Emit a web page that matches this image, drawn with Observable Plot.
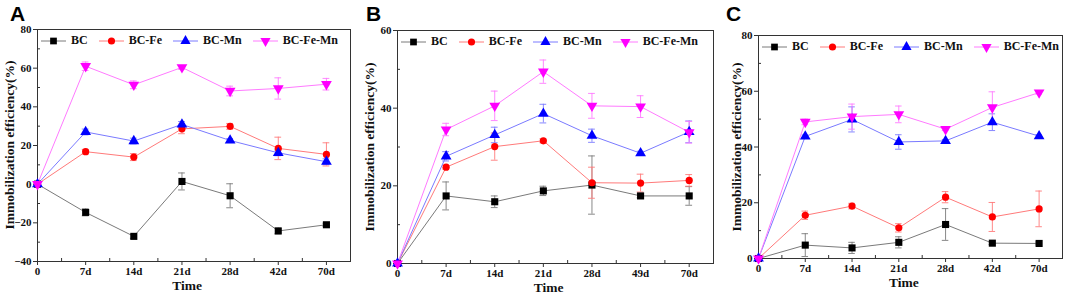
<!DOCTYPE html>
<html>
<head>
<meta charset="utf-8">
<script src="https://cdn.jsdelivr.net/npm/d3@7"></script>
<script src="https://cdn.jsdelivr.net/npm/@observablehq/plot@0.6"></script>
<style>
  html, body { margin: 0; padding: 0; background: #fff; }
  #wrap { position: relative; width: 1065px; height: 296px; overflow: hidden; background: #fff; }
  .pn { position: absolute; top: 0; }
  .pn svg text { font-family: "Liberation Serif", "Times New Roman", serif; font-weight: bold; font-size: 11px; fill: #111; }
  .letter { position: absolute; font-family: "Liberation Sans", Arial, sans-serif; font-weight: bold; font-size: 21px; line-height: 1; color: #000; }
  .ylab { position: absolute; font-family: "Liberation Serif", "Times New Roman", serif; font-weight: bold; font-size: 13.5px; white-space: nowrap; transform: translate(-50%, -50%) rotate(-90deg); color: #111; }
  .xlab { position: absolute; font-family: "Liberation Serif", "Times New Roman", serif; font-weight: bold; font-size: 13.5px; line-height: 1; transform: translate(-50%, -50%); color: #111; }
  .legend { position: absolute; display: flex; align-items: center; gap: 11px; font-family: "Liberation Serif", "Times New Roman", serif; font-weight: bold; font-size: 12px; color: #111; }
  .legend .it { display: flex; align-items: center; }
  .legend svg { display: block; margin-right: 5px; }
</style>
</head>
<body>
<div id="wrap"></div>
<script>
// ---------- data ----------
const seriesNames = ["BC", "BC-Fe", "BC-Mn", "BC-Fe-Mn"];

const timeA = ["0", "7d", "14d", "21d", "28d", "42d", "70d"];
const A_BC = [0, -14.6, -27.0, 1.4, -6.0, -24.2, -21.0];
const A_BC_err = [0, 1.8, 1.0, 4.4, 6.2, 1.5, 0.8];
const A_Fe = [0, 16.8, 14.0, 28.6, 29.9, 18.5, 15.4];
const A_Fe_err = [0, 1.2, 1.8, 2.5, 1.5, 5.8, 6.0];
const A_Mn = [0, 27.0, 22.3, 30.9, 22.6, 16.2, 11.6];
const A_Mn_err = [0, 1.5, 1.5, 1.5, 1.0, 1.5, 1.5];
const A_FeMn = [0, 61.0, 51.4, 60.4, 48.2, 49.5, 51.7];
const A_FeMn_err = [0, 2.2, 2.0, 1.0, 2.5, 5.5, 3.0];

const timeB = ["0", "7d", "14d", "21d", "28d", "49d", "70d"];
const B_BC = [0, 17.4, 15.9, 18.7, 20.2, 17.4, 17.4];
const B_BC_err = [0, 3.6, 1.5, 1.2, 7.5, 0.5, 2.4];
const B_Fe = [0, 24.8, 30.1, 31.6, 20.8, 20.7, 21.4];
const B_Fe_err = [0, 0.5, 3.5, 0.5, 4.0, 2.3, 1.5];
const B_Mn = [0, 27.6, 33.1, 38.6, 32.9, 28.4, 33.9];
const B_Mn_err = [0, 1.2, 2.0, 2.4, 1.7, 0.5, 2.8];
const B_FeMn = [0, 34.5, 40.6, 49.4, 40.6, 40.4, 33.8];
const B_FeMn_err = [0, 1.6, 3.8, 3.0, 3.2, 2.8, 2.8];

const timeC = ["0", "7d", "14d", "21d", "28d", "42d", "70d"];
const C_BC = [0, 4.8, 3.8, 5.8, 12.2, 5.5, 5.4];
const C_BC_err = [0, 4.1, 2.0, 2.0, 5.7, 0.5, 0.5];
const C_Fe = [0, 15.5, 18.8, 11.0, 22.0, 14.9, 17.8];
const C_Fe_err = [0, 1.5, 1.0, 1.5, 2.0, 5.2, 6.4];
const C_Mn = [0, 43.8, 49.9, 41.8, 42.2, 48.9, 43.9];
const C_Mn_err = [0, 0.5, 4.5, 2.6, 0.5, 3.0, 0.5];
const C_FeMn = [0, 49.0, 50.9, 51.7, 46.4, 54.2, 59.5];
const C_FeMn_err = [0, 1.0, 4.5, 3.0, 0.5, 5.6, 0.5];

const yTicksA = [-40, -20, 0, 20, 40, 60, 80];
const yTicksB = [0, 20, 40, 60];
const yTicksC = [0, 20, 40, 60, 80];

// ---------- styles ----------
const markColors = ["#000000", "#ff0000", "#0000ff", "#ff00ff"];
const lineColors = ["#7a7a7a", "#ff7a7a", "#7a7aff", "#ff7aff"];
const symbols = ["square", "circle", "triangle", "triangle"];
const rotates = [0, 0, 0, 180];

function buildRows(vals, errs) {
  const rows = [];
  vals.forEach((arr, s) => arr.forEach((v, i) => rows.push({s, i, y: v, e: errs[s][i]})));
  return rows;
}

const wrap = document.getElementById("wrap");

function panel(cfg) {
  const rows = buildRows(cfg.vals, cfg.errs);
  const withErr = rows.filter(d => d.e > 0);
  const yMin = cfg.yTicks[0], yMax = cfg.yTicks[cfg.yTicks.length - 1];
  const minorY = cfg.yTicks.slice(0, -1).map(t => t + (cfg.yTicks[1] - cfg.yTicks[0]) / 2);
  const majorX = d3.range(0, cfg.labels.length);
  const minorX = d3.range(0.5, cfg.labels.length - 0.4, 1);
  const marks = [
    Plot.frame({stroke: "#333", strokeWidth: 1}),
    Plot.axisX({ticks: majorX, tickFormat: i => cfg.labels[i], tickSize: 4, tickPadding: 2, stroke: "#333", label: null}),
    Plot.axisX({ticks: minorX, tickFormat: () => "", tickSize: -3, stroke: "#333", label: null}),
    Plot.axisY({ticks: cfg.yTicks, tickSize: 4, tickPadding: 2, stroke: "#333", label: null}),
    Plot.axisY({ticks: minorY, tickFormat: () => "", tickSize: -3, stroke: "#333", label: null})
  ];
  for (let s = 0; s < 4; s++) {
    const sr = rows.filter(d => d.s === s);
    const se = withErr.filter(d => d.s === s);
    marks.push(
      Plot.ruleX(se, {x: "i", y1: d => d.y - d.e, y2: d => d.y + d.e, stroke: lineColors[s], strokeWidth: 0.9}),
      Plot.ruleY(se, {y: d => d.y - d.e, x1: d => d.i - 0.07, x2: d => d.i + 0.07, stroke: lineColors[s], strokeWidth: 0.9}),
      Plot.ruleY(se, {y: d => d.y + d.e, x1: d => d.i - 0.07, x2: d => d.i + 0.07, stroke: lineColors[s], strokeWidth: 0.9}),
      Plot.line(sr, {x: "i", y: "y", stroke: lineColors[s], strokeWidth: 1})
    );
  }
  for (let s = 0; s < 4; s++) {
    const sr = rows.filter(d => d.s === s);
    marks.push(Plot.dot(sr, {x: "i", y: "y", symbol: symbols[s], rotate: rotates[s], fill: markColors[s], stroke: "none", r: s === 1 ? 3.6 : 4.0}));
  }
  const chart = Plot.plot({
    width: cfg.width, height: 296,
    marginLeft: cfg.ml, marginRight: cfg.mr, marginTop: cfg.mt, marginBottom: cfg.mb,
    x: {type: "linear", domain: [0, cfg.labels.length - 0.5], label: null},
    y: {domain: [yMin, yMax], label: null},
    style: {fontFamily: "Liberation Serif", fontWeight: "bold", fontSize: "11px", background: "transparent", overflow: "visible"},
    marks
  });
  const div = document.createElement("div");
  div.className = "pn";
  div.style.left = cfg.left + "px";
  div.appendChild(chart);
  wrap.appendChild(div);

  // panel letter
  const L = document.createElement("div");
  L.className = "letter";
  L.textContent = cfg.letter;
  L.style.left = cfg.letterX + "px";
  L.style.top = "3px";
  wrap.appendChild(L);

  // y label
  const frameL = cfg.left + cfg.ml, frameR = cfg.left + cfg.width - cfg.mr;
  const frameT = cfg.mt, frameB = 296 - cfg.mb;
  const yl = document.createElement("div");
  yl.className = "ylab";
  yl.textContent = "Immobilization efficiency(%)";
  yl.style.left = cfg.ylabX + "px";
  yl.style.top = ((frameT + frameB) / 2) + "px";
  wrap.appendChild(yl);

  // x label
  const xl = document.createElement("div");
  xl.className = "xlab";
  xl.textContent = "Time";
  xl.style.left = (frameL + (frameR - frameL) * 0.48) + "px";
  xl.style.top = (frameB + 25) + "px";
  wrap.appendChild(xl);

  // legend
  const lg = document.createElement("div");
  lg.className = "legend";
  lg.style.left = (frameL + 4) + "px";
  lg.style.top = (frameT + 4) + "px";
  seriesNames.forEach((name, s) => {
    const it = document.createElement("div");
    it.className = "it";
    const sym = d3.symbol(s === 0 ? d3.symbolSquare : s === 1 ? d3.symbolCircle : d3.symbolTriangle, s === 1 ? 40 : 45)();
    it.innerHTML = `<svg width="25" height="12"><line x1="0" x2="25" y1="6" y2="6" stroke="${lineColors[s]}" stroke-width="1"/><path d="${sym}" transform="translate(12.5,6) rotate(${rotates[s]})" fill="${markColors[s]}"/></svg><span>${name}</span>`;
    lg.appendChild(it);
  });
  wrap.appendChild(lg);
}

panel({letter: "A", letterX: 10, ylabX: 10, left: 0, width: 355, ml: 37, mr: 5, mt: 29, mb: 35,
  labels: timeA, yTicks: yTicksA,
  vals: [A_BC, A_Fe, A_Mn, A_FeMn], errs: [A_BC_err, A_Fe_err, A_Mn_err, A_FeMn_err]});
panel({letter: "B", letterX: 366, ylabX: 370, left: 355, width: 362, ml: 42, mr: 4, mt: 30, mb: 33,
  labels: timeB, yTicks: yTicksB,
  vals: [B_BC, B_Fe, B_Mn, B_FeMn], errs: [B_BC_err, B_Fe_err, B_Mn_err, B_FeMn_err]});
panel({letter: "C", letterX: 726, ylabX: 737, left: 717, width: 348, ml: 41, mr: 3, mt: 35, mb: 38,
  labels: timeC, yTicks: yTicksC,
  vals: [C_BC, C_Fe, C_Mn, C_FeMn], errs: [C_BC_err, C_Fe_err, C_Mn_err, C_FeMn_err]});
</script>
</body>
</html>
